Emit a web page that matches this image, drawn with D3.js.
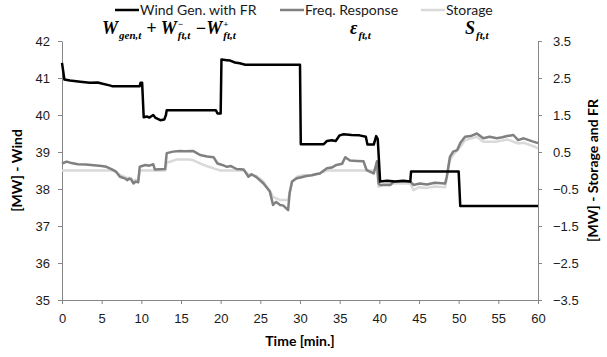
<!DOCTYPE html>
<html>
<head>
<meta charset="utf-8">
<script src="https://cdn.jsdelivr.net/npm/d3@7"></script>
<style>
  body { margin: 0; background: #fff; }
  svg { font-family: Lato, "Open Sans", sans-serif; }
</style>
</head>
<body>
<svg id="chart" width="607" height="357"></svg>
<script>
/* data: [minute, value] */
// wind, left axis [MW]
const windSeries = [
  [0, 41.41], [0.3, 40.96], [1, 40.93], [2.3, 40.9], [3.5, 40.87], [4.5, 40.88],
  [5, 40.85], [6, 40.8], [6.3, 40.78], [9.8, 40.78], [9.9, 40.87], [10.1, 40.87],
  [10.3, 39.94], [10.7, 39.96], [11, 39.93], [11.5, 40.0], [11.8, 39.92], [12.4, 39.86],
  [12.9, 39.88], [13.1, 40.0], [13.2, 40.13], [19.4, 40.13], [19.6, 40.04], [20, 40.04],
  [20.1, 41.5], [20.8, 41.48], [21.2, 41.47], [21.8, 41.42], [22.4, 41.4], [23.1, 41.36],
  [30, 41.36], [30.1, 39.21], [33, 39.21], [33.4, 39.3], [34, 39.32], [34.5, 39.3],
  [35, 39.45], [35.5, 39.48], [36.5, 39.46], [37.5, 39.45], [38.3, 39.41], [38.5, 39.2],
  [39.3, 39.2], [39.6, 39.43], [39.8, 39.35], [40.1, 38.2], [41, 38.22], [42, 38.2],
  [43, 38.22], [43.9, 38.2], [44, 38.47], [50, 38.47], [50.2, 37.54], [60, 37.54]
]
// frequency response, right axis [MW]
const frSeries = [
  [0, 0.19], [0.6, 0.24], [1.2, 0.2], [2, 0.17], [3, 0.16], [4, 0.14], [5, 0.12],
  [5.6, 0.1], [6.3, 0.03], [6.8, -0.03], [7.3, -0.17], [8, -0.22], [8.2, -0.26],
  [8.5, -0.22], [8.7, -0.24], [9, -0.35], [9.3, -0.3], [9.6, -0.32], [9.8, 0.1],
  [10.5, 0.15], [11, 0.13], [11.5, 0.17], [11.7, 0.03], [13, 0.04], [13.2, 0.47],
  [14, 0.51], [14.8, 0.53], [15.5, 0.52], [16.5, 0.53], [17, 0.47], [17.4, 0.42],
  [18.3, 0.38], [19.1, 0.36], [19.6, 0.19], [20.2, 0.15], [20.8, 0.1], [21.3, 0.12],
  [22, 0.04], [22.9, 0.03], [23.5, -0.17], [23.9, -0.1], [24.5, -0.18], [25.4, -0.35],
  [26.2, -0.57], [26.6, -0.93], [27, -0.85], [27.5, -0.93], [27.9, -0.95], [28.5, -1.07],
  [28.7, -0.6], [29, -0.3], [29.6, -0.21], [30.2, -0.18], [30.8, -0.15], [31.5, -0.13],
  [32, -0.1], [32.5, -0.08], [33, 0], [33.4, 0.06], [34, 0.08], [34.6, 0.15],
  [35.3, 0.18], [35.7, 0.36], [36.3, 0.27], [37.2, 0.26], [38, 0.25], [38.4, 0.01],
  [39, -0.05], [39.3, -0.08], [39.7, 0.25], [39.9, -0.35], [40.1, -0.39], [41.4, -0.39],
  [41.8, -0.3], [43, -0.3], [43.9, -0.3], [44.3, -0.39], [45.1, -0.35], [46, -0.38],
  [47, -0.33], [48.3, -0.35], [48.5, -0.17], [48.9, 0.37], [49.3, 0.51], [49.8, 0.55],
  [50.2, 0.74], [50.8, 0.91], [51.5, 0.93], [52.3, 1.0], [53.1, 0.87], [53.9, 0.91],
  [54.8, 0.87], [55.5, 0.9], [56.1, 0.93], [56.9, 0.96], [57.5, 0.82], [58.2, 0.87],
  [59.4, 0.78], [60, 0.74]
]
// storage, right axis [MW]
const storageSeries = [
  [0, 0], [6.5, 0], [7.3, -0.12], [8.2, -0.2], [8.7, -0.2], [9, -0.3], [9.3, -0.25],
  [9.6, -0.3], [9.8, 0], [13, 0], [13.2, 0.21], [14.5, 0.3], [16, 0.3], [16.5, 0.28],
  [17.4, 0.19], [18.5, 0.1], [19.5, 0.03], [20, 0], [22.9, 0], [23.5, -0.1], [24.5, -0.15],
  [25.4, -0.3], [26.2, -0.55], [26.6, -0.71], [27.5, -0.8], [28.5, -0.8], [29, -0.3],
  [29.6, -0.17], [30.4, -0.13], [31.5, -0.12], [32.5, -0.07], [33.4, 0], [39.3, 0],
  [39.7, 0.1], [39.9, -0.44], [40.5, -0.38], [41.5, -0.35], [43.9, -0.35], [44.3, -0.53],
  [45, -0.45], [46, -0.47], [47, -0.43], [48.3, -0.45], [48.9, 0.28], [49.3, 0.42],
  [50.2, 0.64], [50.8, 0.82], [52.3, 0.91], [53.1, 0.78], [54.8, 0.78], [56.1, 0.84],
  [57.5, 0.73], [58.2, 0.75], [59.4, 0.66], [60, 0.6]
]

const xTicks = [0, 5, 10, 15, 20, 25, 30, 35, 40, 45, 50, 55, 60]
const leftTicks = [35, 36, 37, 38, 39, 40, 41, 42]
const rightTicks = [-3.5, -2.5, -1.5, -0.5, 0.5, 1.5, 2.5, 3.5]
const legendNames = ['Wind Gen. with FR', 'Freq. Response', 'Storage']

const margin = {top: 41, right: 69, bottom: 57, left: 62},
  width = 607,
  height = 357

const axisGrey = '#868686'
const colors = ['#000000', '#808080', '#d9d9d9']

const svg = d3.select('#chart')

const x = d3.scaleLinear().domain([0, 60]).range([margin.left, width - margin.right])
const yLeft = d3.scaleLinear().domain([35, 42]).range([height - margin.bottom, margin.top])
const yRight = d3.scaleLinear().domain([-3.5, 3.5]).range([height - margin.bottom, margin.top])

/* axes */
const styleAxis = (g) => {
  g.selectAll('path, line').attr('stroke', axisGrey)
  g.selectAll('text').attr('font-size', 13).attr('fill', '#1a1a1a')
}

svg.append('g')
  .attr('transform', `translate(0,${height - margin.bottom})`)
  .call(d3.axisBottom(x).tickValues(xTicks).tickSize(4).tickSizeOuter(0).tickPadding(10))
  .call(styleAxis)

svg.append('g')
  .attr('transform', `translate(${margin.left},0)`)
  .call(d3.axisLeft(yLeft).tickValues(leftTicks).tickFormat(d3.format('d'))
    .tickSize(4).tickSizeOuter(0).tickPadding(8))
  .call(styleAxis)

svg.append('g')
  .attr('transform', `translate(${width - margin.right},0)`)
  .call(d3.axisRight(yRight).tickValues(rightTicks).tickFormat(d3.format('.1f'))
    .tickSize(4).tickSizeOuter(0).tickPadding(11))
  .call(styleAxis)

/* axis titles */
svg.append('text')
  .attr('x', (margin.left + width - margin.right) / 2)
  .attr('y', 346)
  .attr('text-anchor', 'middle')
  .attr('font-size', 14).attr('font-weight', 'bold')
  .text('Time [min.]')

svg.append('text')
  .attr('transform', `translate(22,${(margin.top + height - margin.bottom) / 2}) rotate(-90)`)
  .attr('text-anchor', 'middle')
  .attr('font-size', 14).attr('font-weight', 'bold')
  .text('[MW] - Wind')

svg.append('text')
  .attr('transform', `translate(598,${(margin.top + height - margin.bottom) / 2}) rotate(-90)`)
  .attr('text-anchor', 'middle')
  .attr('font-size', 14).attr('font-weight', 'bold')
  .text('[MW] - Storage and FR')

/* lines */
const lineLeft = d3.line().x(d => x(d[0])).y(d => yLeft(d[1]))
const lineRight = d3.line().x(d => x(d[0])).y(d => yRight(d[1]))

svg.append('path').datum(storageSeries)
  .attr('d', lineRight).attr('fill', 'none')
  .attr('stroke', colors[2]).attr('stroke-width', 2.5).attr('stroke-linejoin', 'round')

svg.append('path').datum(frSeries)
  .attr('d', lineRight).attr('fill', 'none')
  .attr('stroke', colors[1]).attr('stroke-width', 2.5).attr('stroke-linejoin', 'round')

svg.append('path').datum(windSeries)
  .attr('d', lineLeft).attr('fill', 'none')
  .attr('stroke', colors[0]).attr('stroke-width', 2.5).attr('stroke-linejoin', 'round')

/* legend */
const legendX = [115, 280, 421]
legendNames.forEach((name, i) => {
  svg.append('line')
    .attr('x1', legendX[i]).attr('x2', legendX[i] + 24)
    .attr('y1', 10).attr('y2', 10)
    .attr('stroke', colors[i]).attr('stroke-width', 2.5)
  svg.append('text')
    .attr('x', legendX[i] + 25).attr('y', 14.5)
    .attr('font-size', 14).attr('fill', '#1a1a1a')
    .text(name)
})

/* math annotations */
const mathFont = '"Liberation Serif", "DejaVu Serif", serif'
const mathG = svg.append('g')
  .attr('font-family', mathFont).attr('font-weight', 'bold').attr('font-style', 'italic')

// write a symbol with optional sub/superscript, return next x
const symbol = (x0, base, sub, sup, baseY) => {
  const t = mathG.append('text').attr('x', x0).attr('y', baseY).attr('font-size', 18).text(base)
  let xn = x0 + t.node().getComputedTextLength() + 1
  let w = 0
  if (sup) {
    const s = mathG.append('text').attr('x', xn).attr('y', baseY - 7).attr('font-size', 9).text(sup)
    w = Math.max(w, s.node().getComputedTextLength())
  }
  if (sub) {
    const s = mathG.append('text').attr('x', xn).attr('y', baseY + 5).attr('font-size', 11).text(sub)
    w = Math.max(w, s.node().getComputedTextLength())
  }
  return xn + w
}

let mx = symbol(102, 'W', 'gen,t', null, 34)
mx = symbol(mx + 5, '+ W', 'ft,t', '\u2212', 34)
symbol(mx + 5, '\u2212W', 'ft,t', '+', 34)
symbol(350, '\u03B5', 'ft,t', null, 34)
symbol(465, 'S', 'ft,t', null, 34)
</script>
</body>
</html>
